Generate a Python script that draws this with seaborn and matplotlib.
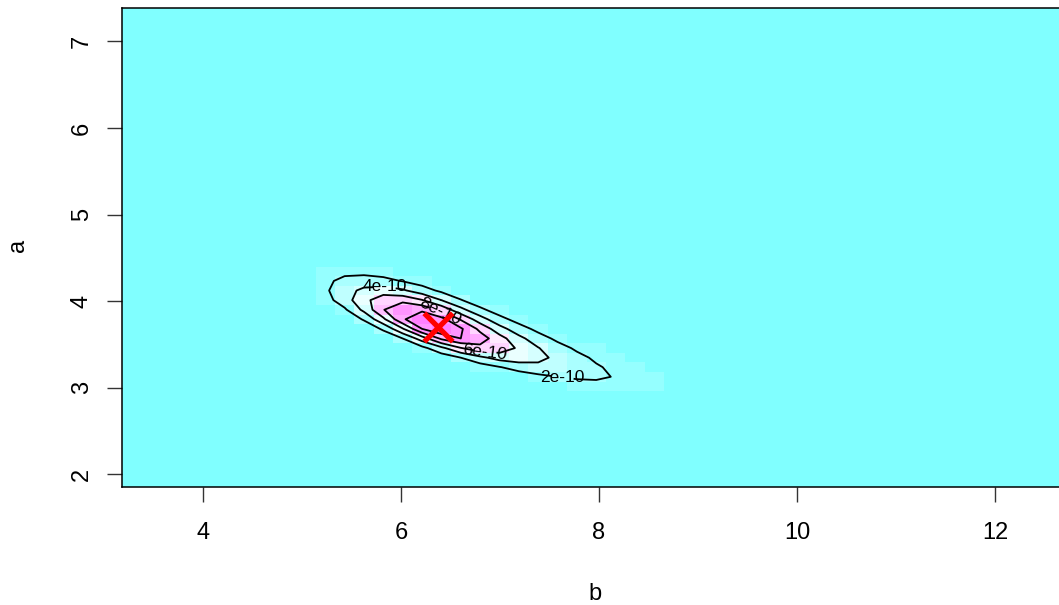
import numpy as np
import matplotlib
matplotlib.use("Agg")
import matplotlib.pyplot as plt
from matplotlib.colors import ListedColormap, BoundaryNorm
import seaborn as sns

# grid cells (centres) around the likelihood peak; outside this block it is ~0
b_grid = [5.040, 5.235, 5.431, 5.626, 5.822, 6.017, 6.213, 6.408, 6.604, 6.799, 6.995,
          7.190, 7.386, 7.581, 7.777, 7.972, 8.168, 8.363, 8.559, 8.754, 8.950]
a_grid = [2.902, 3.013, 3.124, 3.235, 3.345, 3.456, 3.567, 3.678,
          3.789, 3.899, 4.010, 4.121, 4.232, 4.343, 4.453, 4.564]

# likelihood, in units of 1e-11 (rows = a, columns = b)
lik = [
    [0, 0, 0, 0, 0, 0, 0, 0, 0, 0, 0, 0, 1, 1, 3, 5, 7, 8, 8, 8, 7],
    [0, 0, 0, 0, 0, 0, 0, 0, 0, 0, 1, 2, 4, 7, 11, 14, 16, 15, 13, 9, 8],
    [0, 0, 0, 0, 0, 0, 0, 0, 0, 2, 4, 9, 15, 20, 23, 23, 19, 15, 11, 8, 5],
    [0, 0, 0, 0, 0, 0, 0, 1, 4, 10, 19, 28, 34, 34, 29, 22, 16, 11, 7, 4, 2],
    [0, 0, 0, 0, 0, 0, 2, 8, 20, 35, 48, 52, 46, 35, 25, 17, 10, 6, 3, 2, 1],
    [0, 0, 0, 0, 1, 4, 14, 35, 59, 74, 72, 57, 41, 27, 17, 10, 5, 3, 1, 1, 0],
    [0, 0, 0, 1, 6, 20, 50, 84, 100, 90, 68, 46, 28, 16, 8, 4, 2, 1, 0, 0, 0],
    [0, 0, 1, 6, 23, 58, 100, 118, 103, 75, 48, 28, 15, 7, 3, 1, 1, 0, 0, 0, 0],
    [0, 1, 6, 22, 56, 97, 117, 107, 78, 49, 26, 13, 6, 2, 1, 0, 0, 0, 0, 0, 0],
    [1, 4, 17, 45, 79, 99, 96, 74, 46, 24, 11, 5, 2, 1, 0, 0, 0, 0, 0, 0, 0],
    [3, 12, 31, 54, 72, 74, 61, 40, 21, 9, 4, 1, 0, 0, 0, 0, 0, 0, 0, 0, 0],
    [6, 17, 32, 45, 50, 43, 29, 16, 7, 3, 1, 0, 0, 0, 0, 0, 0, 0, 0, 0, 0],
    [8, 16, 25, 29, 26, 19, 11, 5, 2, 1, 0, 0, 0, 0, 0, 0, 0, 0, 0, 0, 0],
    [7, 12, 15, 14, 11, 6, 3, 1, 0, 0, 0, 0, 0, 0, 0, 0, 0, 0, 0, 0, 0],
    [5, 7, 7, 5, 3, 2, 1, 0, 0, 0, 0, 0, 0, 0, 0, 0, 0, 0, 0, 0, 0],
    [3, 3, 2, 2, 1, 0, 0, 0, 0, 0, 0, 0, 0, 0, 0, 0, 0, 0, 0, 0, 0],
]

levels = [2e-10, 4e-10, 6e-10, 8e-10, 1e-9]
mle_b = [6.37]
mle_a = [3.70]

# R cm.colors(12)
cm_colors = ["#80FFFF", "#95FFFF", "#AAFFFF", "#BFFFFF", "#D5FFFF", "#EAFFFF",
             "#FFEAFF", "#FFD5FF", "#FFBFFF", "#FFAAFF", "#FF95FF", "#FF80FF"]

z = np.array(lik) * 1e-11
bb = np.array(b_grid)
aa = np.array(a_grid)
db = np.diff(bb) / 2
da = np.diff(aa) / 2
b_edges = np.concatenate([[bb[0] - db[0]], bb[:-1] + db, [bb[-1] + db[-1]]])
a_edges = np.concatenate([[aa[0] - da[0]], aa[:-1] + da, [aa[-1] + da[-1]]])

sns.set_theme(style="ticks")
plt.rcParams["font.family"] = ["Liberation Sans", "DejaVu Sans"]

fig = plt.figure(figsize=(10.59, 6.05), dpi=100)
ax = fig.add_axes([0.1152, 0.195, 0.9139, 0.7918])
ax.set_facecolor(cm_colors[0])

norm = BoundaryNorm(np.linspace(0, z.max(), 13), 12)
ax.pcolormesh(b_edges, a_edges, z, cmap=ListedColormap(cm_colors), norm=norm)
cs = ax.contour(bb, aa, z, levels=levels, colors="black", linewidths=1.3)
labels = ax.clabel(cs, levels[:4], fmt="%.0e", fontsize=12.5, inline=True,
                   manual=[(7.63, 3.12), (5.83, 4.15), (6.85, 3.415), (6.40, 3.89)])
for t in labels:
    if t.get_text() in ("2e-10", "4e-10"):
        t.set_rotation(0)

sns.scatterplot(x=mle_b, y=mle_a, marker="x", s=420, color="red",
                linewidth=3.8, ax=ax, zorder=5, legend=False)

ax.set_xlim(3.182, 12.958)
ax.set_ylim(1.8496, 7.3874)
ax.set_xticks([4, 6, 8, 10, 12])
ax.set_yticks([2, 3, 4, 5, 6, 7])
ax.set_xlabel("")
ax.set_ylabel("")
ax.tick_params(axis="both", length=11, width=1, color="#333333",
               labelsize=17, labelcolor="black", direction="out")
ax.tick_params(axis="x", pad=14)
ax.tick_params(axis="y", pad=10)
plt.setp(ax.get_yticklabels(), rotation=90, va="center")
for sp in ax.spines.values():
    sp.set_linewidth(1.1)
    sp.set_color("black")

fig.text(0.562, 0.018, "b", ha="center", va="center", fontsize=17, color="black")
fig.text(0.017, 0.595, "a", ha="center", va="center", fontsize=17, color="black", rotation=90)

fig.savefig("out.png")
